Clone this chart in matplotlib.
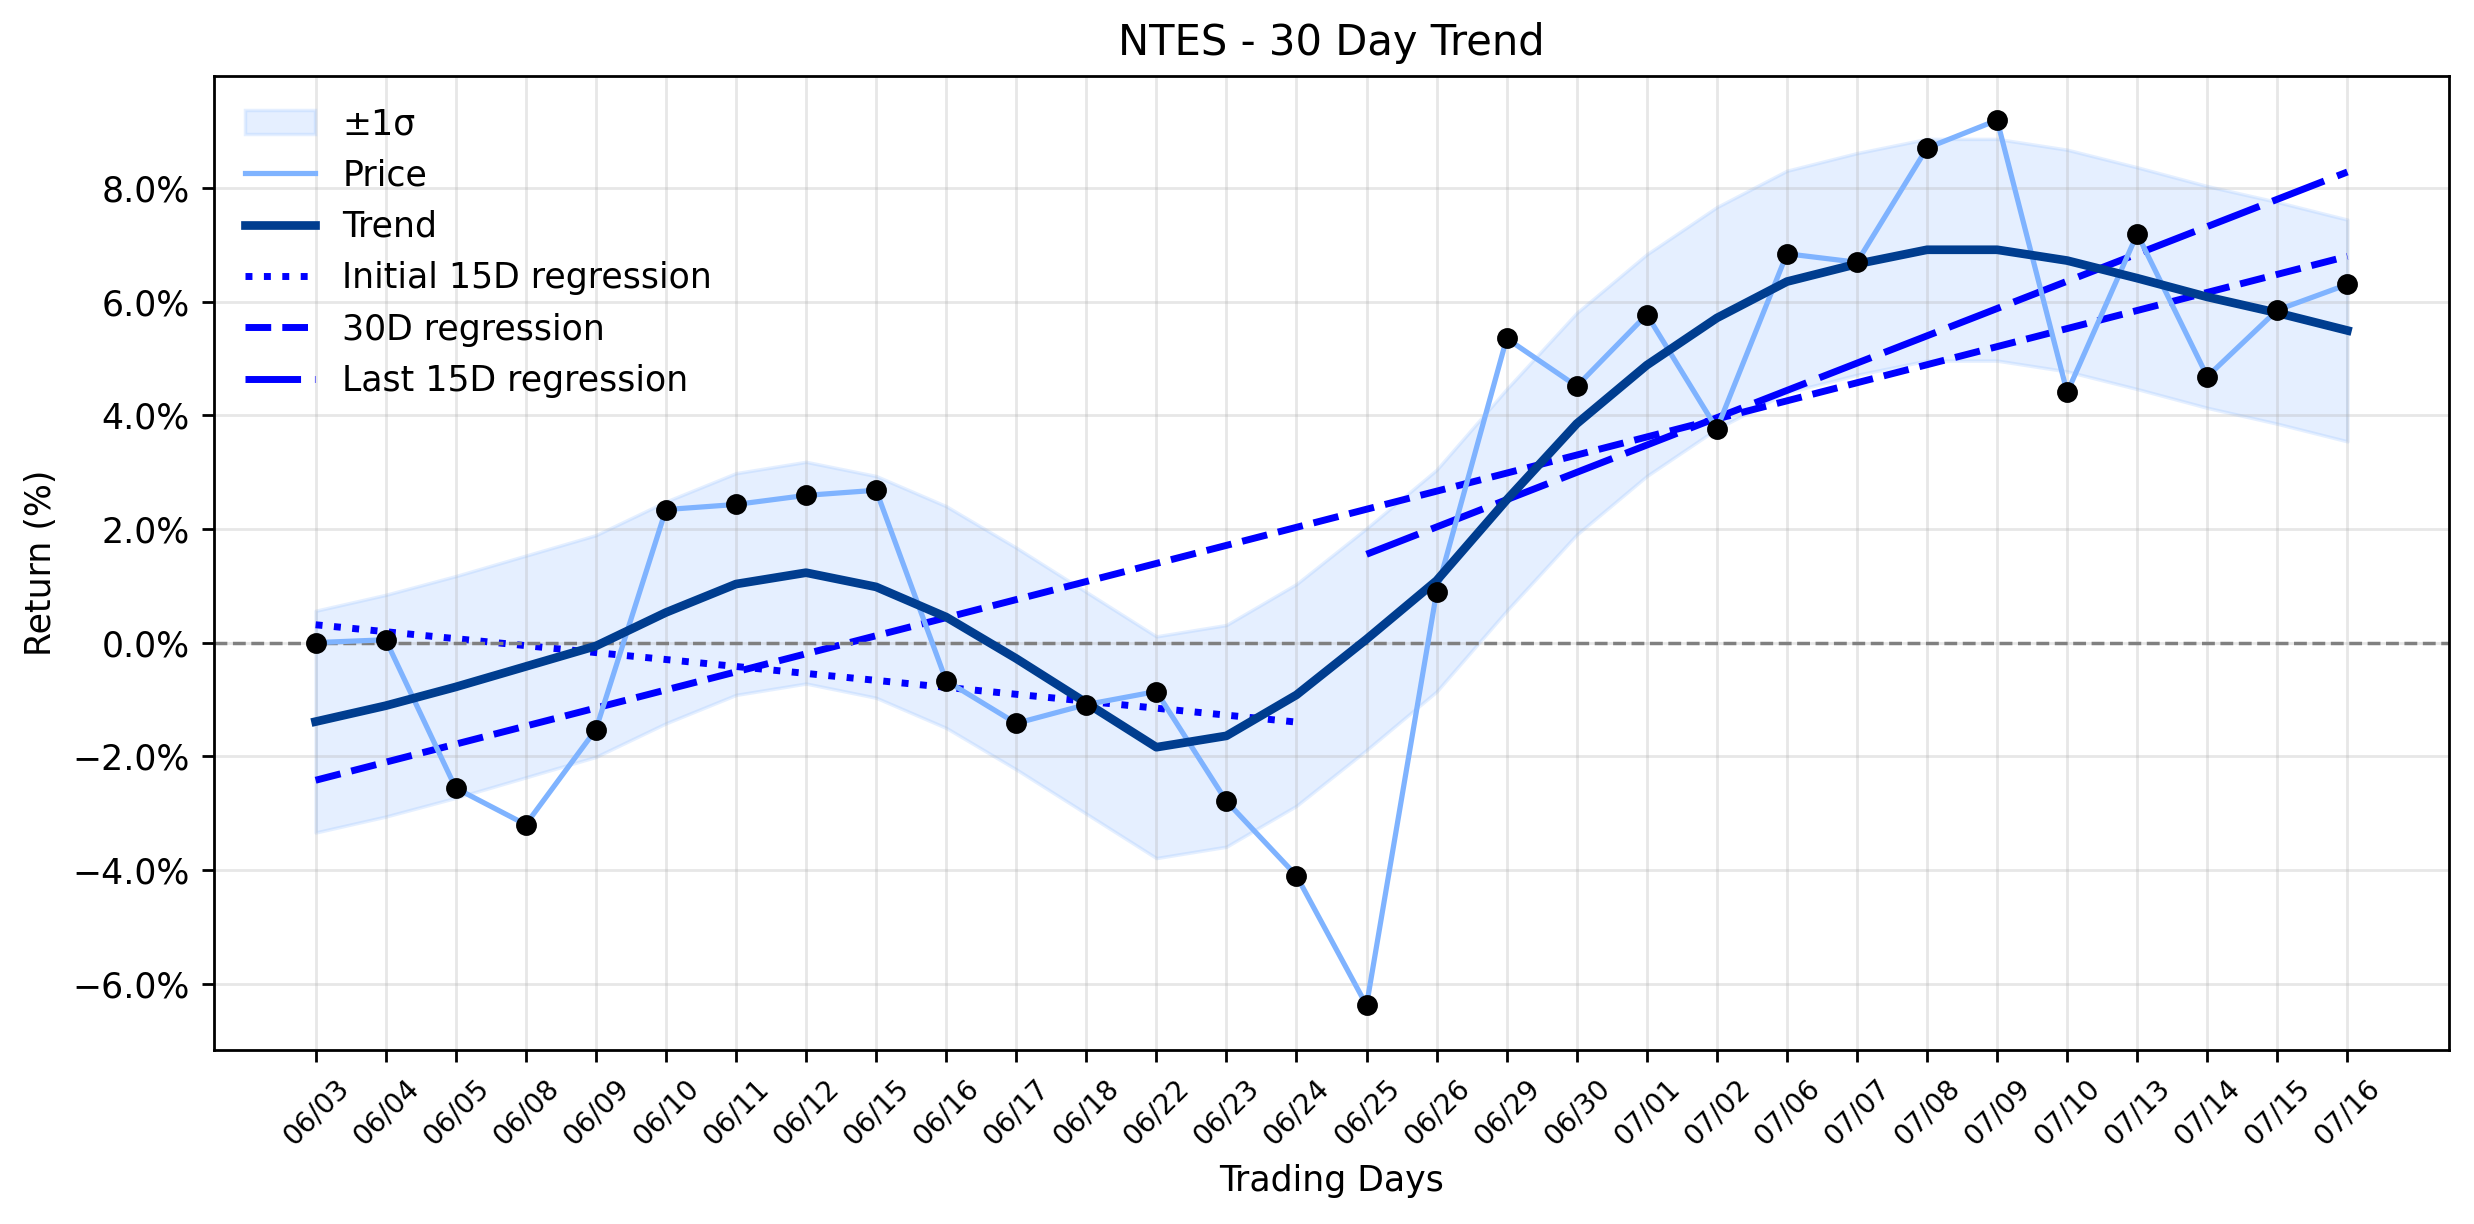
import matplotlib
matplotlib.use("Agg")
import matplotlib.pyplot as plt
import numpy as np
from matplotlib.ticker import FuncFormatter

# trading days shown on the x axis
dates = ["06/03", "06/04", "06/05", "06/08", "06/09", "06/10", "06/11", "06/12",
         "06/15", "06/16", "06/17", "06/18", "06/22", "06/23", "06/24", "06/25",
         "06/26", "06/29", "06/30", "07/01", "07/02", "07/06", "07/07", "07/08",
         "07/09", "07/10", "07/13", "07/14", "07/15", "07/16"]

# cumulative return (%)
price = [0.00, 0.05, -2.56, -3.20, -1.53, 2.34, 2.43, 2.59, 2.68, -0.67,
         -1.42, -1.09, -0.86, -2.79, -4.10, -6.38, 0.89, 5.35, 4.51, 5.77,
         3.76, 6.84, 6.69, 8.70, 9.19, 4.40, 7.19, 4.68, 5.85, 6.30]

# smoothed trend (%)
trend = [-1.39, -1.11, -0.78, -0.42, -0.06, 0.53, 1.03, 1.23, 0.98, 0.45,
         -0.28, -1.06, -1.84, -1.64, -0.92, 0.06, 1.09, 2.51, 3.85, 4.88,
         5.71, 6.35, 6.66, 6.91, 6.91, 6.72, 6.41, 6.08, 5.80, 5.49]

sigma = 1.95  # band half-width (%)

x = np.arange(len(dates))
price = np.array(price)
trend = np.array(trend)

fig, ax = plt.subplots(figsize=(9.896, 4.896), dpi=250)
fig.subplots_adjust(left=0.0865, right=0.9899, top=0.938, bottom=0.1425)

ax.fill_between(x, trend - sigma, trend + sigma, color='#7fb3ff', alpha=0.2,
                label='±1σ')
ax.plot(x, price, color='#7fb3ff', lw=1.5, label='Price', zorder=3)
ax.plot(x, trend, color='#003d8f', lw=2.5, label='Trend', zorder=4)
ax.scatter(x, price, color='black', s=25, zorder=5)

# regressions
n = 15
c = np.polyfit(x[:n], price[:n], 1)
ax.plot(x[:n], np.polyval(c, x[:n]), color='blue', ls=':', lw=2,
        label='Initial 15D regression')
c = np.polyfit(x, price, 1)
ax.plot(x, np.polyval(c, x), color='blue', ls='--', lw=2, label='30D regression')
c = np.polyfit(x[-n:], price[-n:], 1)
ax.plot(x[-n:], np.polyval(c, x[-n:]), color='blue', ls=(0, (8, 2)), lw=2,
        label='Last 15D regression')

ax.axhline(0, color='gray', ls='--', lw=1)

ax.set_xticks(x)
ax.set_xticklabels(dates, rotation=45, fontsize=8)
ax.yaxis.set_major_formatter(FuncFormatter(lambda v, p: f'{v:.1f}%'.replace('-', '\u2212')))
ax.grid(True, alpha=0.3)
ax.set_title('NTES - 30 Day Trend')
ax.set_xlabel('Trading Days')
ax.set_ylabel('Return (%)')
ax.legend(loc='upper left', frameon=False)

fig.savefig('out.png', dpi=250)
